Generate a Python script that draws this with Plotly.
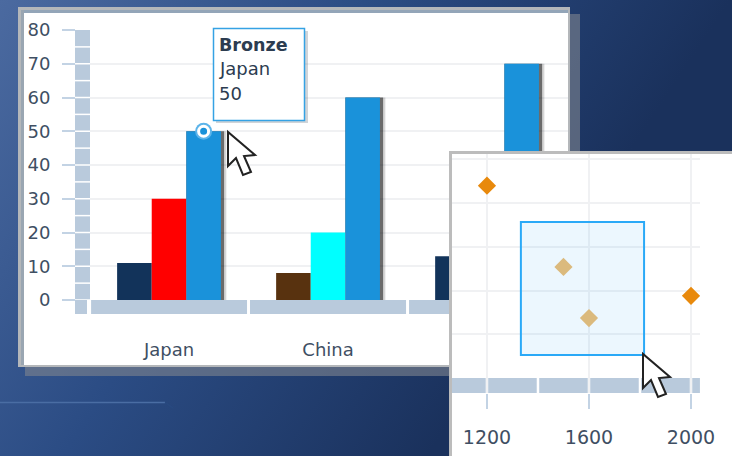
import base64
import plotly.graph_objects as go

W, H = 732, 456

# ---- data: bar panel
categories = ["Japan", "China", "USA"]
cat_pos = [0, 1, 2]
gold = [11, 8, 13]
silver = [30, 20, 25]
bronze = [50, 60, 70]
gold_colors = ["#12335a", "#58320f", "#12335a"]
silver_colors = ["#ff0000", "#00ffff", "#ff0000"]
bronze_colors = ["#1a92da", "#1a92da", "#1a92da"]
y_ticks = [0, 10, 20, 30, 40, 50, 60, 70, 80]

# ---- data: scatter inset
scatter_x = [1200, 1500, 1600, 2000]
scatter_y = [44, 25.4, 13.7, 18.8]
scatter_colors = ["#e8890c", "#edbb70", "#edbb70", "#e8890c"]
x_ticks = [1200, 1600, 2000]
x_minor = [1400, 1800]
y_grid = [10, 20, 30, 40, 50]

# ---- tooltip
tip_lines = ["<b>Bronze</b>", "Japan", "50"]

TXT = "#3f4f63"
FONT = "DejaVu Sans"
BAND = "#b9cadc"
GRID = "#f0f1f3"
TICK = "#c3d3e4"


def fx(p):
    return p / W


def fy(p):
    return 1 - p / H


def rect(x0, y0, x1, y1, fill, line=None, lw=0, layer="below"):
    return dict(type="rect", xref="paper", yref="paper", x0=fx(x0), x1=fx(x1), y0=fy(y1), y1=fy(y0),
                fillcolor=fill, line=dict(color=line or "rgba(0,0,0,0)", width=lw), layer=layer)


def cursor(dx, dy):
    pts = [(228, 132), (228, 166), (236, 158), (243, 175), (251, 172), (244, 156), (255, 155)]
    d = "M" + " L".join(f"{fx(x + dx):.5f},{fy(y + dy):.5f}" for x, y in pts) + " Z"
    return dict(type="path", xref="paper", yref="paper", path=d, fillcolor="#ffffff",
                line=dict(color="#222222", width=2), layer="above")


svg = (f'<svg xmlns="http://www.w3.org/2000/svg" width="{W}" height="{H}">'
       '<defs><linearGradient id="g" gradientUnits="userSpaceOnUse" x1="0" y1="0" x2="507" y2="337">'
       '<stop offset="0" stop-color="#4b6aa0"/><stop offset="0.5" stop-color="#2b4c84"/>'
       '<stop offset="1" stop-color="#1a315c"/></linearGradient></defs>'
       f'<rect width="{W}" height="{H}" fill="url(#g)"/></svg>')
bg_src = "data:image/svg+xml;base64," + base64.b64encode(svg.encode()).decode()

w = 0.2176
shadow_off = 0.5 * w
fig = go.Figure()

# bar panel
fig.add_trace(go.Bar(x=cat_pos, y=bronze, width=w + 0.034, offset=shadow_off, xaxis="x", yaxis="y",
                     marker=dict(color="rgba(0,0,0,0.16)", line=dict(width=0)), hoverinfo="skip", showlegend=False))
fig.add_trace(go.Bar(x=cat_pos, y=bronze, width=w + 0.02, offset=shadow_off, xaxis="x", yaxis="y",
                     marker=dict(color="rgba(0,0,0,0.5)", line=dict(width=0)), hoverinfo="skip", showlegend=False))
for name, vals, cols, off in [("Gold", gold, gold_colors, -1.5 * w),
                              ("Silver", silver, silver_colors, -0.5 * w),
                              ("Bronze", bronze, bronze_colors, 0.5 * w)]:
    fig.add_trace(go.Bar(x=cat_pos, y=vals, name=name, width=w, offset=off, xaxis="x", yaxis="y",
                         marker=dict(color=cols, line=dict(width=0)), showlegend=False))
fig.add_trace(go.Scatter(x=[cat_pos[0] + w], y=[bronze[0]], mode="markers", xaxis="x", yaxis="y", showlegend=False,
                         cliponaxis=False, hoverinfo="skip",
                         marker=dict(size=17, color="#5cb4ea")))
fig.add_trace(go.Scatter(x=[cat_pos[0] + w], y=[bronze[0]], mode="markers", xaxis="x", yaxis="y", showlegend=False,
                         cliponaxis=False, hoverinfo="skip",
                         marker=dict(size=10, color="#1a92da", line=dict(color="#ffffff", width=3))))

# opaque card behind the inset, drawn in a later subplot so it hides the bars
fig.add_trace(go.Scatter(x=[0, 1, 1, 0, 0], y=[0, 0, 1, 1, 0], mode="none", fill="toself", fillcolor="#ffffff",
                         xaxis="x2", yaxis="y2", hoverinfo="skip", showlegend=False))

# scatter inset
fig.add_trace(go.Scatter(x=scatter_x, y=scatter_y, mode="markers", xaxis="x3", yaxis="y3", showlegend=False,
                         marker=dict(symbol="diamond", size=14, color=scatter_colors)))

shapes = [
    rect(25, 14, 580, 376, "rgba(125,130,142,0.62)"),
    rect(18, 7, 570, 367, "#b4b7ba"),
    rect(21, 10, 568, 13, "#93a5b8"),
    rect(21, 10, 24, 365, "#9aa6b2"),
    rect(24, 13, 568, 365, "#ffffff"),
    dict(type="line", xref="paper", yref="paper", x0=0, x1=fx(165), y0=fy(402.5), y1=fy(402.5),
         line=dict(color="#4a6da3", width=1.5), layer="below"),
    dict(type="line", xref="paper", yref="paper", x0=fx(165), x1=fx(173), y0=fy(402.5), y1=fy(408),
         line=dict(color="#294a80", width=1.5), layer="below"),
    # y band and x band of the bar panel
    dict(type="rect", xref="paper", yref="y", x0=fx(75), x1=fx(90), y0=0, y1=80, fillcolor=BAND,
         line=dict(width=0), layer="below"),
    rect(75, 300, 87, 314, BAND),
    dict(type="rect", xref="x", yref="paper", x0=-0.49, x1=2.48, y0=fy(314), y1=fy(300), fillcolor=BAND,
         line=dict(width=0), layer="below"),
]
for v in range(0, 80, 5):
    shapes.append(dict(type="line", xref="paper", yref="y", x0=fx(75), x1=fx(90), y0=v, y1=v,
                       line=dict(color="#ffffff", width=1.5), layer="below"))
for v in (0.5, 1.5):
    shapes.append(dict(type="line", xref="x", yref="paper", x0=v, x1=v, y0=fy(314), y1=fy(300),
                       line=dict(color="#ffffff", width=3), layer="below"))
# inset band (inside the inset subplot, below its grid)
shapes.append(dict(type="rect", xref="x3", yref="y3", x0=1059, x1=2035, y0=-3.43, y1=0, fillcolor=BAND,
                   line=dict(width=0), layer="below"))
for v in x_ticks + x_minor:
    shapes.append(dict(type="line", xref="x3", yref="y3", x0=v, x1=v, y0=-3.43, y1=0,
                       line=dict(color="#ffffff", width=2.5), layer="below"))
shapes += [
    # selection box
    dict(type="rect", xref="x3", yref="y3", x0=1333, x1=1816, y0=5.26, y1=35.7,
         fillcolor="rgba(70,180,245,0.10)", line=dict(color="#2aa9f7", width=2), layer="above"),
    # inset frame
    rect(449, 151, 452, H, "#bcbcbc", layer="above"),
    rect(449, 151, W, 154, "#bcbcbc", layer="above"),
    # tooltip
    rect(216, 31, 308, 123, "rgba(90,100,115,0.28)", layer="above"),
    rect(213.5, 28.5, 304.5, 120.5, "#ffffff", "#35a2e4", 1.5, layer="above"),
    cursor(0, 0),
    cursor(415, 222),
]

annotations = [
    dict(xref="paper", yref="paper", x=fx(216.5), y=fy(yy), xanchor="left", yanchor="middle", text=t, showarrow=False,
         font=dict(family=FONT, size=fs, color="#2c3c50"))
    for t, yy, fs in zip(tip_lines, [44.5, 69, 93], [17.5, 18, 18])
]

fig.update_layout(
    width=W, height=H, margin=dict(l=0, r=0, t=0, b=0, autoexpand=False), autosize=False,
    paper_bgcolor="#1f3d70", plot_bgcolor="rgba(0,0,0,0)", barmode="overlay", hovermode=False, showlegend=False,
    images=[dict(source=bg_src, xref="paper", yref="paper", x=0, y=1, sizex=1, sizey=1, sizing="stretch",
                 xanchor="left", yanchor="top", layer="below")],
    shapes=shapes, annotations=annotations,
    xaxis=dict(domain=[fx(90), fx(568)], range=[-0.4969, 2.509], tickvals=cat_pos, ticktext=categories,
               showgrid=False, zeroline=False, showline=False, ticks="", ticklabelstandoff=37, automargin=False,
               tickfont=dict(family=FONT, size=18, color=TXT), fixedrange=True, anchor="y"),
    yaxis=dict(domain=[fy(300), fy(30)], range=[0, 80], tickvals=y_ticks, showgrid=True, gridcolor=GRID, gridwidth=2,
               zeroline=False, showline=False, ticks="outside", ticklen=13, tickwidth=2, tickcolor=TICK,
               ticklabelstandoff=8, tickfont=dict(family=FONT, size=18, color=TXT), anchor="free", position=fx(75),
               fixedrange=True, automargin=False),
    xaxis2=dict(domain=[fx(451), 1], range=[0, 1], visible=False, fixedrange=True, anchor="y2"),
    yaxis2=dict(domain=[0, fy(152)], range=[0, 1], visible=False, fixedrange=True, anchor="x2"),
    xaxis3=dict(domain=[fx(451), fx(700)], range=[1059, 2035.3], tickvals=x_ticks, showgrid=True, gridcolor=GRID,
                gridwidth=2, zeroline=False, showline=False, ticks="outside", ticklen=15, tickwidth=2, tickcolor=TICK,
                ticklabelstandoff=12, tickfont=dict(family=FONT, size=19, color=TXT), anchor="y3", fixedrange=True,
                automargin=False),
    yaxis3=dict(domain=[fy(393), fy(152)], range=[-3.43, 51.7], tickvals=y_grid, showticklabels=False, showgrid=True,
                gridcolor=GRID, gridwidth=2, zeroline=False, showline=False, ticks="", anchor="x3", fixedrange=True,
                automargin=False),
)

fig.write_html("out.html", config={"displayModeBar": False},
               post_script="document.body.style.margin='0';document.documentElement.style.overflow='hidden';")
